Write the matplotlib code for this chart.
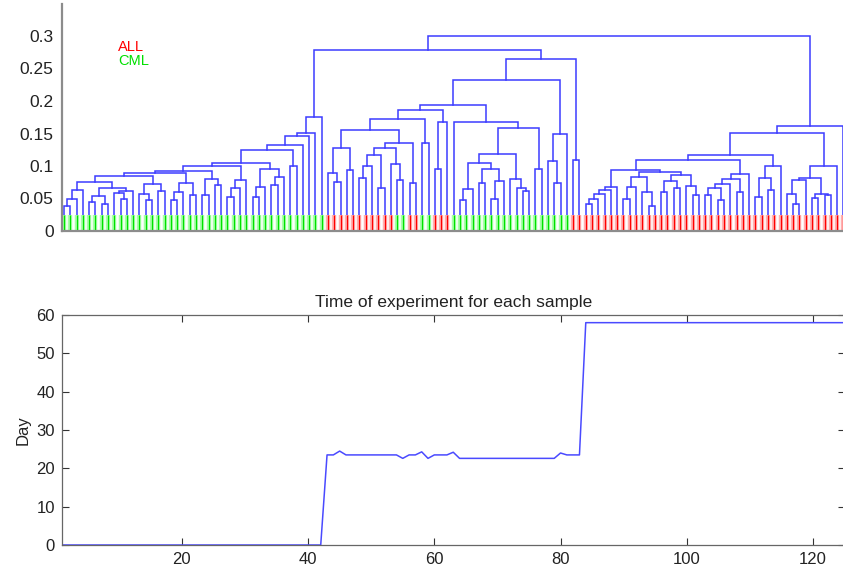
import numpy as np
import matplotlib
matplotlib.use("Agg")
import matplotlib.pyplot as plt

plt.rcParams['font.family'] = ['Liberation Sans', 'DejaVu Sans']

# height of the link joining each pair of neighbouring leaves (leaf order 1..125)
gap_height = [
    # CML block, leaves 1-42
    0.038, 0.049, 0.063, 0.076, 0.045, 0.054, 0.041, 0.066, 0.058, 0.050,
    0.062, 0.084, 0.057, 0.048, 0.072, 0.062, 0.089, 0.047, 0.060, 0.074,
    0.055, 0.093, 0.055, 0.080, 0.071, 0.100, 0.052, 0.066, 0.079, 0.104,
    0.052, 0.067, 0.096, 0.071, 0.083, 0.124, 0.100, 0.132, 0.146, 0.151,
    0.176, 0.278,
    # mixed block, leaves 43-83
    0.089, 0.076, 0.127, 0.094, 0.155, 0.081, 0.100, 0.117, 0.066, 0.128,
    0.103, 0.079, 0.135, 0.074, 0.172, 0.136, 0.186, 0.095, 0.168, 0.194,
    0.167, 0.048, 0.065, 0.105, 0.074, 0.095, 0.049, 0.077, 0.118, 0.080,
    0.066, 0.062, 0.159, 0.095, 0.232, 0.108, 0.074, 0.149, 0.265, 0.110,
    0.300,
    # ALL block, leaves 84-125
    0.041, 0.049, 0.057, 0.063, 0.068, 0.094, 0.050, 0.068, 0.083, 0.060,
    0.038, 0.091, 0.060, 0.077, 0.066, 0.086, 0.069, 0.055, 0.110, 0.055,
    0.066, 0.048, 0.072, 0.080, 0.060, 0.088, 0.117, 0.053, 0.081, 0.063,
    0.100, 0.151, 0.057, 0.042, 0.078, 0.081, 0.051, 0.057, 0.055, 0.100,
    0.162,
]

# runs of leaf classes along the leaf order
class_runs = [("CML", 42), ("ALL", 11), ("CML", 2), ("ALL", 2), ("CML", 2),
              ("ALL", 3), ("CML", 19), ("ALL", 44)]
class_color = {"ALL": ("#ff0000", "#ffb0b0"), "CML": ("#00e000", "#a8ffa8")}

# experiment day per sample, same order
day = ([0] * 42 +
       [23.5, 23.5, 24.5, 23.5, 23.5, 23.5, 23.5, 23.5, 23.5, 23.5,
        23.5, 23.5, 22.6, 23.5, 23.5, 24.3, 22.6, 23.5, 23.5, 23.5,
        24.2, 22.6, 22.6, 22.6, 22.6, 22.6, 22.6, 22.6, 22.6, 22.6,
        22.6, 22.6, 22.6, 22.6, 22.6, 22.6, 22.6, 24.0, 23.5, 23.5,
        23.5] +
       [58] * 42)

leaf_class = []
for name, n in class_runs:
    leaf_class += [name] * n
n_leaf = len(leaf_class)
gaps = np.array(gap_height)

links = []


def build(lo, hi):
    # split the leaf range at its highest gap, like a linkage tree
    if lo == hi:
        return lo + 1, 0.0
    k = lo + int(np.argmax(gaps[lo:hi]))
    xl, hl = build(lo, k)
    xr, hr = build(k + 1, hi)
    h = gaps[k]
    links.append((xl, xr, hl, hr, h))
    return (xl + xr) / 2.0, h


build(0, n_leaf - 1)

fig = plt.figure(figsize=(8.43, 5.71), dpi=100)

# dendrogram
ax1 = fig.add_axes([62 / 843, 1 - 231 / 571, 783 / 843, 227.5 / 571])
for xl, xr, hl, hr, h in links:
    ax1.plot([xl, xl, xr, xr], [hl, h, h, hr], color="#3c3cff", lw=1.1,
             solid_joinstyle="miter")
for i, name in enumerate(leaf_class):
    strong, light = class_color[name]
    ax1.plot([i + 1, i + 1], [0, 0.025], color=light, lw=3.2, solid_capstyle="butt")
    ax1.plot([i + 1, i + 1], [0, 0.025], color=strong, lw=0.9, solid_capstyle="butt")

ax1.set_xlim(0.68, 125.24)
ax1.set_ylim(0, 0.35)
ax1.set_yticks([0, 0.05, 0.1, 0.15, 0.2, 0.25, 0.3])
ax1.set_yticklabels(["0", "0.05", "0.1", "0.15", "0.2", "0.25", "0.3"])
ax1.set_xticks([])
ax1.tick_params(axis="y", length=0, pad=6, labelsize=12.5, labelcolor="#222222")
for side in ["top", "right"]:
    ax1.spines[side].set_visible(False)
for side in ["left", "bottom"]:
    ax1.spines[side].set_color("#8c8c8c")
    ax1.spines[side].set_linewidth(1.6)
ax1.text(9.6, 0.283, "ALL", color="#ff0000", fontsize=10.5, va="center")
ax1.text(9.6, 0.261, "CML", color="#00e000", fontsize=10.5, va="center")

# experiment day per sample
ax2 = fig.add_axes([62 / 843, 26 / 571, 782.5 / 843, 230 / 571])
x = np.arange(1, len(day) + 1)
ax2.plot(x, day, color="#4a4aff", lw=1.1)
ax2.set_xlim(1, 125)
ax2.set_ylim(0, 60)
ax2.set_xticks([20, 40, 60, 80, 100, 120])
ax2.set_yticks([0, 10, 20, 30, 40, 50, 60])
ax2.tick_params(direction="in", top=True, right=True, length=5, width=0.8,
                color="#333333", labelsize=12, labelcolor="#222222", pad=5)
for s in ax2.spines.values():
    s.set_color("#666666")
    s.set_linewidth(0.9)
ax2.set_ylabel("Day", fontsize=12, color="#222222", labelpad=4)
ax2.set_title("Time of experiment for each sample", fontsize=12.5,
              color="#222222", pad=6)

fig.savefig("out.png", dpi=100)
